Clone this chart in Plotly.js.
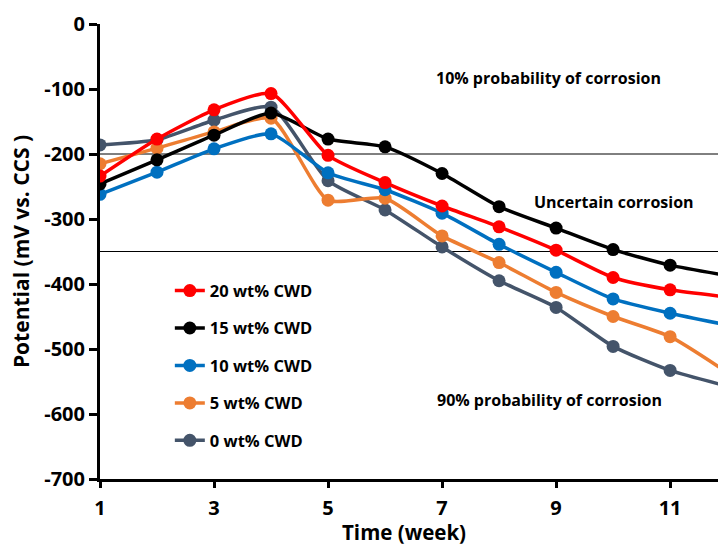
<!DOCTYPE html>
<html><head><meta charset="utf-8">
<script src="https://cdn.plot.ly/plotly-3.0.1.min.js"></script>
<style>body{margin:0;background:#fff}#chart{width:718px;height:548px}</style>
</head><body><div id="chart"></div>
<script>
const weeks = [1,2,3,4,5,6,7,8,9,10,11,12];
const names = ["0 wt% CWD","5 wt% CWD","10 wt% CWD","15 wt% CWD","20 wt% CWD"];
const colors = ["#44546A","#ED7D31","#0070C0","#000000","#FF0000"];
const cwd0  = [-186,-178,-148,-128,-241,-286,-343,-395,-436,-496,-533,-557];
const cwd5  = [-215,-191,-166,-145,-271,-268,-326,-367,-413,-450,-481,-536];
const cwd10 = [-262,-228,-192,-169,-229,-255,-291,-339,-382,-423,-445,-463];
const cwd15 = [-246,-209,-171,-137,-177,-189,-230,-281,-314,-347,-371,-387];
const cwd20 = [-234,-177,-132,-107,-202,-244,-280,-312,-348,-390,-409,-420];
const series = [cwd0,cwd5,cwd10,cwd15,cwd20];
const thresholds = [-200,-350];
const yTickVals = [0,-100,-200,-300,-400,-500,-600,-700];
const yTickText = ["0","-100","-200","-300","-400","-500","-600","-700"];
const xTitle = "Time (week)";
const yTitle = "Potential (mV vs. CCS )";
const zoneLabels = [
  {text:"10% probability of corrosion", x:8.86, y:-83},
  {text:"Uncertain corrosion", x:10.02, y:-274},
  {text:"90% probability of corrosion", x:8.88, y:-578}
];
const FONT = "'Open Sans', Lato, sans-serif";
const traces = series.map((s,i)=>({
  x: weeks, y: s, name: names[i], type:"scatter", mode:"lines+markers",
  legendgroup: "g"+i, legendrank: 10 - i,
  line:{color:colors[i], width:3.5, shape:"spline", smoothing:0.6},
  marker:{color:colors[i], size:13}
}));
const shapes = thresholds.map(v=>({type:"line", xref:"paper", x0:0, x1:1, yref:"y", y0:v, y1:v, line:{color:"#000", width:1}, layer:"below"}));
const annotations = zoneLabels.map(a=>({text:a.text, x:a.x, y:a.y, xref:"x", yref:"y", showarrow:false, font:{family:FONT, size:16, color:"#000", weight:"bold"}}));
annotations.push({text:xTitle, xref:"paper", yref:"paper", x:0.492, y:-0.1515, xanchor:"center", yanchor:"bottom", showarrow:false,
  font:{family:FONT, size:20.5, color:"#000", weight:"bold"}});
const layout = {
  width:718, height:548,
  margin:{l:100, r:0, t:24, b:69},
  paper_bgcolor:"#fff", plot_bgcolor:"#fff",
  font:{family:FONT, color:"#000"},
  showlegend:true,
  legend:{x:0.113, y:0.452, xanchor:"left", yanchor:"top", traceorder:"grouped", tracegroupgap:13,
    font:{family:FONT, size:16.5, color:"#000", weight:"bold"}, bgcolor:"rgba(0,0,0,0)"},
  xaxis:{range:[1,11.84], tickvals:[1,3,5,7,9,11], ticks:"outside", ticklen:6, tickwidth:3, tickcolor:"#000",
    showline:true, linecolor:"#000", linewidth:3, showgrid:false, zeroline:false, ticklabelstandoff:3,
    tickfont:{family:FONT, size:20, weight:"bold"}},
  yaxis:{range:[-700,0], tickvals:yTickVals, ticktext:yTickText, ticks:"outside", ticklen:8, tickwidth:3, tickcolor:"#000",
    showline:true, linecolor:"#000", linewidth:3, showgrid:false, zeroline:false,
    tickfont:{family:FONT, size:20, weight:"bold"},
    title:{text:yTitle, font:{family:FONT, size:21, weight:"bold"}, standoff:9}},
  shapes: shapes, annotations: annotations
};
Plotly.newPlot("chart", traces, layout, {displayModeBar:false, staticPlot:true});
</script></body></html>
